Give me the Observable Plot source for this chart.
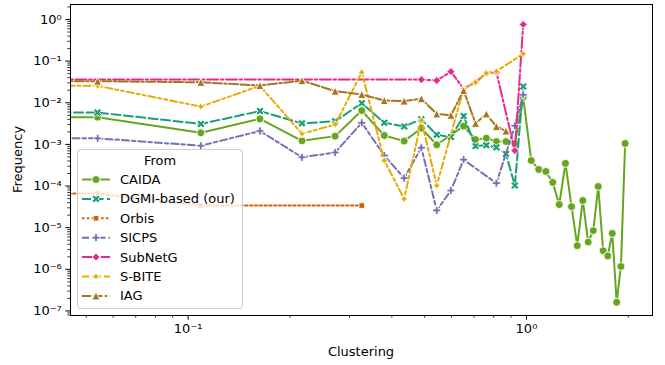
<!DOCTYPE html>
<html><head><meta charset="utf-8">
<script src="https://cdn.jsdelivr.net/npm/d3@7"></script>
<script src="https://cdn.jsdelivr.net/npm/@observablehq/plot@0.6"></script>
<style>body{margin:0;background:#fff;} #chart{width:665px;height:365px;}</style>
</head><body><div id="chart"></div>
<script>
// Clustering bins (first entry 0 lies off the log axis, like the original)
const clustering = [0, 0.054, 0.109, 0.163, 0.217, 0.272, 0.326, 0.380, 0.435, 0.489, 0.543, 0.598, 0.652, 0.707, 0.761, 0.815, 0.870, 0.924, 0.978, 1.033, 1.087, 1.141, 1.196, 1.250, 1.304, 1.359, 1.413, 1.467, 1.522, 1.576, 1.630, 1.685, 1.739, 1.793, 1.848, 1.902, 1.957];

const caida   = [4.5e-3, 4.5e-3, 1.9e-3, 4.1e-3, 1.22e-3, 1.58e-3, 6.5e-3, 1.64e-3, 1.2e-3, 2.45e-3, 9.8e-4, null, 2.74e-3, 1.31e-3, 1.41e-3, 1.17e-3, 1.17e-3, 1.04e-3, 1.36e-2, 4.1e-4, 2.5e-4, 2.24e-4, 1.22e-4, 3.6e-5, 3.5e-4, 3.2e-5, 3.7e-6, 4.5e-5, 4.5e-6, 8.5e-6, 9.8e-5, 2.8e-6, 2.1e-6, 7.3e-6, 1.62e-7, 1.17e-6, 1.05e-3];
const dgmi    = [5.8e-3, 5.8e-3, 3.1e-3, 6.3e-3, 3.2e-3, 3.6e-3, 9.8e-3, 3.3e-3, 2.7e-3, 4.0e-3, 1.7e-3, 1.5e-3, 4.8e-3, 9.1e-4, 9.6e-4, 8.5e-4, 5.9e-4, 1.03e-4, 2.46e-2];
const orbis   = [6.6e-5, 6.6e-5, 3.4e-5, null, null, null, 3.4e-5];
const sicps   = [1.4e-3, 1.4e-3, 9.3e-4, 2.1e-3, 4.9e-4, 6.4e-4, 3.3e-3, 5.4e-4, 1.55e-4, 8.3e-4, 2.6e-5, 7.8e-5, 4.3e-4, null, null, 1.17e-4, null, 2.8e-3, 1.55e-2];
const subnetg = [3.6e-2, null, null, null, null, null, null, null, null, 3.6e-2, 3.43e-2, 5.6e-2, 2.17e-2, 3.1e-2, 5.1e-2, 5.4e-2, null, 7.1e-4, 7.6e-1];
const sbite   = [2.55e-2, 2.55e-2, 8.1e-3, 2.55e-2, 1.8e-3, 3.0e-3, 5.4e-2, 4.1e-4, 4.9e-5, 3.8e-3, 1.03e-4, null, 2.17e-2, 3.1e-2, 5.1e-2, 5.7e-2, null, null, 1.5e-1];
const iag     = [3.3e-2, 3.3e-2, 3.1e-2, 2.6e-2, 3.4e-2, 1.9e-2, 1.58e-2, 1.13e-2, 1.1e-2, 1.25e-2, 5.4e-3, 5.0e-3, 1.97e-2, 3.2e-3, 5.4e-3, 2.7e-3, 2.1e-3];

const seriesNames  = ["CAIDA", "DGMI-based (our)", "Orbis", "SICPS", "SubNetG", "S-BITE", "IAG"];
const seriesValues = [caida, dgmi, orbis, sicps, subnetg, sbite, iag];
const seriesColors = ["#66a61e", "#1b9e77", "#d95f02", "#7570b3", "#e7298a", "#e6ab02", "#a6761d"];
const seriesDashes = ["none", "9,3.5", "2.4,2.4", "7,3,3.5,3", "11,2.6,2.6,2.6", "7,3,3,3,3,3", "9,2.4,9,2.4,2.4,2.4"];
const seriesMarkers = ["circle", "x", "square", "plus", "diamond", "star", "triangle"];

const yMajorTicks = [1e-7, 1e-6, 1e-5, 1e-4, 1e-3, 1e-2, 1e-1, 1];
const yTickLabels = ["10⁻⁷", "10⁻⁶", "10⁻⁵", "10⁻⁴", "10⁻³", "10⁻²", "10⁻¹", "10⁰"];
const xMajorTicks = [0.1, 1];
const xTickLabels = ["10⁻¹", "10⁰"];
const xMinorTicks = [0.05, 0.06, 0.07, 0.08, 0.09, 0.2, 0.3, 0.4, 0.5, 0.6, 0.7, 0.8, 0.9, 2];
const yMinorTicks = [];
for (let e = -8; e <= 0; e++) for (let m = 2; m <= 9; m++) { const v = m * Math.pow(10, e); if (v > 7.8e-8 && v < 2.29) yMinorTicks.push(v); }

// marker shapes (matplotlib-like), radius-normalised
function poly(pts) {
  return {draw(ctx, size) {
    const R = Math.sqrt(size / Math.PI);
    pts.forEach(([a, b], i) => i ? ctx.lineTo(a * R, b * R) : ctx.moveTo(a * R, b * R));
    ctx.closePath();
  }};
}
const s2 = Math.SQRT1_2, st = 0.3536;
const symbols = {
  circle: {draw(ctx, size) { const R = Math.sqrt(size / Math.PI); ctx.moveTo(R, 0); ctx.arc(0, 0, R, 0, 2 * Math.PI); }},
  x: poly([[-1,-2],[0,-1],[1,-2],[2,-1],[1,0],[2,1],[1,2],[0,1],[-1,2],[-2,1],[-1,0],[-2,-1]].map(([a,b]) => [a/2, b/2])),
  plus: poly([[-1,-3],[1,-3],[1,-1],[3,-1],[3,1],[1,1],[1,3],[-1,3],[-1,1],[-3,1],[-3,-1],[-1,-1]].map(([a,b]) => [a/3, b/3])),
  square: poly([[-s2,-s2],[s2,-s2],[s2,s2],[-s2,s2]]),
  diamond: poly([[0,-1],[1,0],[0,1],[-1,0]]),
  star: poly([[0,-1],[st,-st],[1,0],[st,st],[0,1],[-st,st],[-1,0],[-st,-st]]),
  triangle: poly([[0,-1],[1,1],[-1,1]])
};

const marks = [];
seriesNames.forEach((name, si) => {
  const vals = seriesValues[si];
  const pts = [];
  clustering.forEach((c, i) => { const v = vals[i]; if (v != null) pts.push({x: c, y: v}); });
  const linePts = pts.map(p => ({x: p.x > 0 ? p.x : 1e-3, y: p.y}));
  const dotPts = pts.filter(p => p.x > 0);
  marks.push(Plot.line(linePts, {x: "x", y: "y", stroke: seriesColors[si], strokeWidth: 2,
    strokeDasharray: seriesDashes[si] === "none" ? undefined : seriesDashes[si], clip: true}));
  marks.push(Plot.dot(dotPts, {x: "x", y: "y", symbol: symbols[seriesMarkers[si]], r: 4,
    fill: seriesColors[si], stroke: "white", strokeWidth: 0.9, clip: true}));
});

const xLab = new Map(xMajorTicks.map((t, i) => [t, xTickLabels[i]]));
const yLab = new Map(yMajorTicks.map((t, i) => [t, yTickLabels[i]]));

const plot = Plot.plot({
  width: 665, height: 365,
  marginLeft: 70, marginRight: 13, marginTop: 4, marginBottom: 50,
  style: {fontFamily: "'DejaVu Sans', sans-serif", fontSize: "13px", background: "white", color: "black"},
  x: {type: "log", domain: [0.0449, 2.358]},
  y: {type: "log", domain: [7.78e-8, 2.29]},
  marks: [
    ...marks,
    Plot.frame({stroke: "black", strokeWidth: 1}),
    Plot.axisX(xMinorTicks, {tickSize: 2.7, tickFormat: () => "", label: null, strokeWidth: 0.8}),
    Plot.axisY(yMinorTicks, {tickSize: 2.7, tickFormat: () => "", label: null, strokeWidth: 0.8}),
    Plot.axisX(xMajorTicks, {tickSize: 4.7, tickPadding: 4, tickFormat: d => xLab.get(d), label: null, fontSize: 13}),
    Plot.axisY(yMajorTicks, {tickSize: 4.7, tickPadding: 4, tickFormat: d => yLab.get(d), label: null, fontSize: 13})
  ]
});
document.getElementById("chart").appendChild(plot);

const svg = d3.select(plot);
svg.append("text").attr("x", 361).attr("y", 351).attr("text-anchor", "middle")
  .attr("dominant-baseline", "central").attr("font-size", 13).attr("fill", "black").text("Clustering");
svg.append("text").attr("transform", "translate(17,159.5) rotate(-90)").attr("text-anchor", "middle")
  .attr("dominant-baseline", "central").attr("font-size", 13).attr("fill", "black").text("Frequency");

// legend
const lg = svg.append("g");
lg.append("rect").attr("x", 77.5).attr("y", 149.5).attr("width", 165).attr("height", 159).attr("rx", 3)
  .attr("fill", "white").attr("fill-opacity", 0.8).attr("stroke", "#cccccc").attr("stroke-width", 1);
lg.append("text").attr("x", 160).attr("y", 160.5).attr("text-anchor", "middle").attr("dominant-baseline", "central")
  .attr("font-size", 13).attr("fill", "black").text("From");
seriesNames.forEach((name, si) => {
  const y = 179.5 + si * 19.4;
  lg.append("line").attr("x1", 82).attr("x2", 110).attr("y1", y).attr("y2", y)
    .attr("stroke", seriesColors[si]).attr("stroke-width", 2)
    .attr("stroke-dasharray", seriesDashes[si] === "none" ? null : seriesDashes[si]);
  lg.append("path").attr("transform", `translate(96,${y})`)
    .attr("d", d3.symbol(symbols[seriesMarkers[si]], Math.PI * 16)())
    .attr("fill", seriesColors[si]).attr("stroke", "white").attr("stroke-width", 0.9);
  lg.append("text").attr("x", 120).attr("y", y).attr("text-anchor", "start").attr("dominant-baseline", "central")
    .attr("font-size", 13).attr("fill", "black").text(name);
});
</script>
</body></html>
